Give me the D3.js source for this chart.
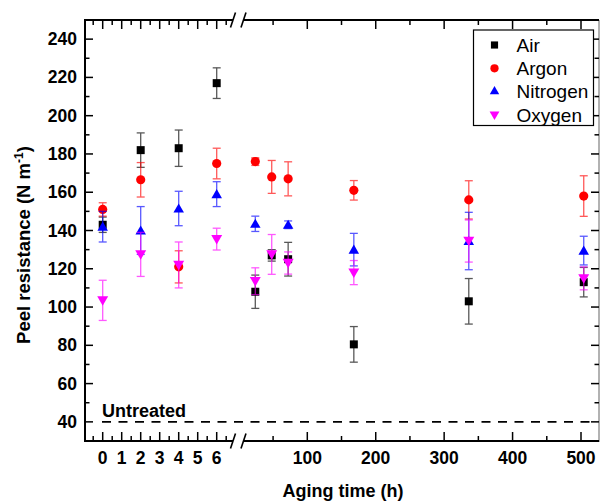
<!DOCTYPE html>
<html><head><meta charset="utf-8">
<script src="https://cdn.jsdelivr.net/npm/d3@7"></script>
<style>body{margin:0;background:#fff}text{font-family:Arial,"Liberation Sans",sans-serif}</style>
</head><body>
<svg id="c" width="601" height="502"></svg>
<script>
const times = [0, 2, 4, 6, 24, 48, 72, 168, 336, 504];
const airVal = [143, 182, 183, 217, 108, 127, 125, 80.5, 103, 113];
const airErr = [4, 9, 9.5, 8, 8.7, 3, 8.8, 9.3, 11.9, 7.7];
const argonVal = [151, 166.5, 121, 175, 176, 168, 167, 161, 156, 158];
const argonErr = [3.5, 9, 8.4, 8, 2, 8.6, 8.9, 5.1, 10, 10.6];
const nitrogenVal = [142, 140, 151.5, 159, 143.5, null, 143, 130, 134.5, 129.5];
const nitrogenErr = [8, 12.5, 9, 6.5, 4, null, 2, 8.5, 15, 7.5];
const oxygenVal = [103.5, 127.5, 122, 135.5, 113.5, 127.5, 123, 118, 134.5, 115];
const oxygenErr = [10.5, 11.5, 12, 5.7, 7, 10.4, 5.8, 6.3, 11, 6];
const seriesNames = ["Air", "Argon", "Nitrogen", "Oxygen"];
const yTicks = [40, 60, 80, 100, 120, 140, 160, 180, 200, 220, 240];
const xTicks1 = [0, 1, 2, 3, 4, 5, 6];
const xTicks2 = [100, 200, 300, 400, 500];
const untreated = 40;

const svg = d3.select("#c");
const L = 85, R = 599, T = 20, B = 441;
const brk1 = 233, brk2 = 243.5;
const y = d3.scaleLinear().domain([30, 250]).range([B, T]);
const x1 = d3.scaleLinear().domain([0, 6]).range([102.7, 216.7]);
const x2 = d3.scaleLinear().domain([100, 500]).range([307.3, 581]);
const xt = t => t <= 7 ? x1(t) : x2(t);

const series = [
  {name: "Air", val: airVal, err: airErr, color: "#000", bar: "#000", sym: d3.symbolSquare, size: 64, rot: 0},
  {name: "Argon", val: argonVal, err: argonErr, color: "#f00", bar: "#f00", sym: d3.symbolCircle, size: 66, rot: 0},
  {name: "Nitrogen", val: nitrogenVal, err: nitrogenErr, color: "#00f", bar: "#00f", sym: d3.symbolTriangle, size: 48, rot: 0},
  {name: "Oxygen", val: oxygenVal, err: oxygenErr, color: "#f0f", bar: "#f0f", sym: d3.symbolTriangle, size: 52, rot: 180}
];

// untreated dashed line
svg.append("line").attr("x1", 102).attr("x2", 590).attr("y1", y(untreated)).attr("y2", y(untreated))
  .attr("stroke", "#000").attr("stroke-width", 1.8).attr("stroke-dasharray", "9,7.5");
svg.append("text").attr("x", 102).attr("y", y(untreated) - 5).attr("font-size", 18).attr("font-weight", "bold").text("Untreated");

// data
series.forEach(s => {
  const g = svg.append("g");
  times.forEach((t, i) => {
    if (s.val[i] == null) return;
    const cx = xt(t), v = s.val[i], e = s.err[i];
    const eg = g.append("g").attr("stroke", s.bar).attr("stroke-width", 1.3).attr("opacity", 0.65);
    eg.append("line").attr("x1", cx).attr("x2", cx).attr("y1", y(v - e)).attr("y2", y(v + e));
    [v - e, v + e].forEach(w => eg.append("line").attr("x1", cx - 4).attr("x2", cx + 4).attr("y1", y(w)).attr("y2", y(w)));
  });
  times.forEach((t, i) => {
    if (s.val[i] == null) return;
    g.append("path").attr("d", d3.symbol(s.sym, s.size)())
      .attr("transform", `translate(${xt(t)},${y(s.val[i]) + (s.sym === d3.symbolTriangle ? (s.rot ? -1 : 1) : 0)}) rotate(${s.rot})`)
      .attr("fill", s.color);
  });
});

// axes frame
const ax = svg.append("g").attr("stroke", "#000").attr("stroke-width", 2).attr("fill", "none");
ax.append("line").attr("x1", L).attr("x2", L).attr("y1", T).attr("y2", B + 1);
ax.append("line").attr("x1", R).attr("x2", R).attr("y1", T).attr("y2", B + 1).attr("stroke", "#999").attr("stroke-width", 1.5);
[T, B].forEach(yy => {
  ax.append("line").attr("x1", L - 1).attr("x2", brk1).attr("y1", yy).attr("y2", yy);
  ax.append("line").attr("x1", brk2).attr("x2", R).attr("y1", yy).attr("y2", yy);
  ax.append("line").attr("x1", brk1 - 2.5).attr("x2", brk1 + 2.5).attr("y1", yy + 7.5).attr("y2", yy - 7.5).attr("stroke-width", 1.6);
  ax.append("line").attr("x1", brk2 - 2.5).attr("x2", brk2 + 2.5).attr("y1", yy + 7.5).attr("y2", yy - 7.5).attr("stroke-width", 1.6);
});

// y ticks
const tk = svg.append("g").attr("stroke", "#000").attr("stroke-width", 1.5);
d3.range(30, 251, 10).forEach(v => {
  const major = yTicks.includes(v);
  const len = major ? 8 : 4.5;
  if (v === 30 || v === 250) return;
  tk.append("line").attr("x1", L).attr("x2", L + len).attr("y1", y(v)).attr("y2", y(v));
  tk.append("line").attr("x1", R).attr("x2", R - len).attr("y1", y(v)).attr("y2", y(v));
});
svg.append("g").selectAll("text").data(yTicks).join("text")
  .attr("x", 77).attr("y", d => y(d) + 6).attr("text-anchor", "end")
  .attr("font-size", 17.5).attr("font-weight", "bold").text(d => d);

// x ticks
const minor1 = d3.range(-0.5, 6.6, 0.5).filter(d => !xTicks1.includes(d));
const minor2 = d3.range(50, 501, 50).filter(d => !xTicks2.includes(d));
const xt1 = [...xTicks1.map(d => [x1(d), 9]), ...minor1.map(d => [x1(d), 5])];
const xt2 = [...xTicks2.map(d => [x2(d), 9]), ...minor2.map(d => [x2(d), 5])];
[...xt1, ...xt2].forEach(([px, len]) => {
  tk.append("line").attr("x1", px).attr("x2", px).attr("y1", B).attr("y2", B - len);
  tk.append("line").attr("x1", px).attr("x2", px).attr("y1", T).attr("y2", T + len);
});
svg.append("g").selectAll("text").data(xTicks1).join("text")
  .attr("x", d => x1(d)).attr("y", 464).attr("text-anchor", "middle")
  .attr("font-size", 17.5).attr("font-weight", "bold").text(d => d);
svg.append("g").selectAll("text").data(xTicks2).join("text")
  .attr("x", d => x2(d)).attr("y", 464).attr("text-anchor", "middle")
  .attr("font-size", 17.5).attr("font-weight", "bold").text(d => d);

// axis titles
svg.append("text").attr("x", 343).attr("y", 497).attr("text-anchor", "middle")
  .attr("font-size", 18).attr("font-weight", "bold").text("Aging time (h)");
const yt = svg.append("text").attr("transform", "translate(30,245) rotate(-90)").attr("text-anchor", "middle")
  .attr("font-size", 18.5).attr("font-weight", "bold");
yt.append("tspan").text("Peel resistance (N m");
yt.append("tspan").attr("dy", -7).attr("font-size", 12).text("-1");
yt.append("tspan").attr("dy", 7).text(")");

// legend
const lg = svg.append("g");
lg.append("rect").attr("x", 473.5).attr("y", 30).attr("width", 120).attr("height", 95.5)
  .attr("fill", "#fff").attr("stroke", "#000").attr("stroke-width", 1.2);
const rowY = [45, 68.3, 90.5, 115.3];
series.forEach((s, i) => {
  lg.append("path").attr("d", d3.symbol(s.sym, s.size * 0.8)())
    .attr("transform", `translate(494.5,${rowY[i] + (s.sym === d3.symbolTriangle ? (s.rot ? -1 : 1) : 0)}) rotate(${s.rot})`)
    .attr("fill", s.color);
  lg.append("text").attr("x", 516.5).attr("y", rowY[i] + 7).attr("font-size", 19).text(seriesNames[i]);
});
</script>
</body></html>
